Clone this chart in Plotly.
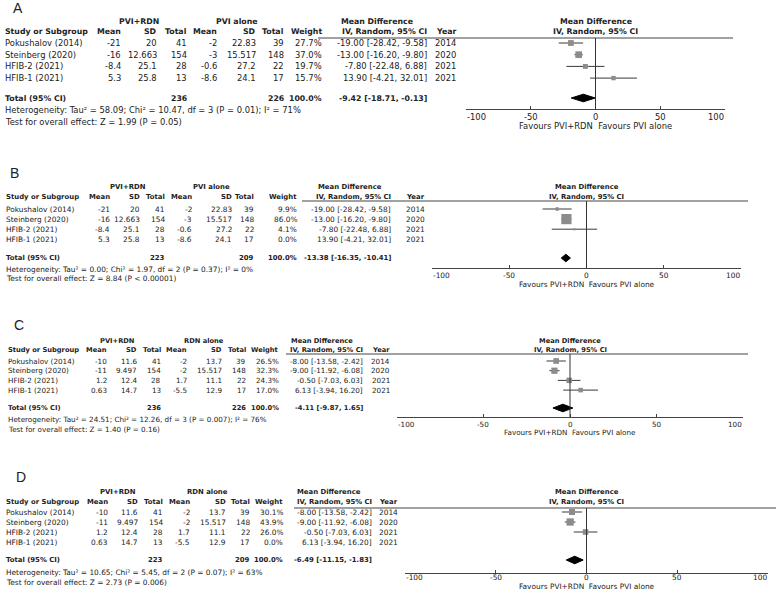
import plotly.graph_objects as go

W, H = 776, 589
FONT = "DejaVu Sans"
TXT = "#222222"

# ---------------- data ----------------
studies = ["Pokushalov (2014)", "Steinberg (2020)", "HFIB-2 (2021)", "HFIB-1 (2021)"]
years = ["2014", "2020", "2021", "2021"]

# A: PVI+RDN vs PVI alone (all studies)
a_exp_mean = [-21, -16, -8.4, 5.3]
a_exp_sd = [20, 12.663, 25.1, 25.8]
a_exp_n = [41, 154, 28, 13]
a_ctl_mean = [-2, -3, -0.6, -8.6]
a_ctl_sd = [22.83, 15.517, 27.2, 24.1]
a_ctl_n = [39, 148, 22, 17]
a_weight = [27.7, 37.0, 19.7, 15.7]
a_md = [-19.00, -13.00, -7.80, 13.90]
a_lo = [-28.42, -16.20, -22.48, -4.21]
a_hi = [-9.58, -9.80, 6.88, 32.01]
a_total_n = [236, 226]
a_total = [-9.42, -18.71, -0.13]
a_het = "Heterogeneity: Tau² = 58.09; Chi² = 10.47, df = 3 (P = 0.01); I² = 71%"
a_test = "Test for overall effect: Z = 1.99 (P = 0.05)"

# B: PVI+RDN vs PVI alone (HFIB-1 excluded)
b_weight = [9.9, 86.0, 4.1, 0.0]
b_total_n = [223, 209]
b_total = [-13.38, -16.35, -10.41]
b_het = "Heterogeneity: Tau² = 0.00; Chi² = 1.97, df = 2 (P = 0.37); I² = 0%"
b_test = "Test for overall effect: Z = 8.84 (P < 0.00001)"

# C: PVI+RDN vs RDN alone (all studies)
c_exp_mean = [-10, -11, 1.2, 0.63]
c_exp_sd = [11.6, 9.497, 12.4, 14.7]
c_exp_n = [41, 154, 28, 13]
c_ctl_mean = [-2, -2, 1.7, -5.5]
c_ctl_sd = [13.7, 15.517, 11.1, 12.9]
c_ctl_n = [39, 148, 22, 17]
c_weight = [26.5, 32.3, 24.3, 17.0]
c_md = [-8.00, -9.00, -0.50, 6.13]
c_lo = [-13.58, -11.92, -7.03, -3.94]
c_hi = [-2.42, -6.08, 6.03, 16.20]
c_total_n = [236, 226]
c_total = [-4.11, -9.87, 1.65]
c_het = "Heterogeneity: Tau² = 24.51; Chi² = 12.26, df = 3 (P = 0.007); I² = 76%"
c_test = "Test for overall effect: Z = 1.40 (P = 0.16)"

# D: PVI+RDN vs RDN alone (HFIB-1 excluded)
d_weight = [30.1, 43.9, 26.0, 0.0]
d_total_n = [223, 209]
d_total = [-6.49, -11.15, -1.83]
d_het = "Heterogeneity: Tau² = 10.65; Chi² = 5.45, df = 2 (P = 0.07); I² = 63%"
d_test = "Test for overall effect: Z = 2.73 (P = 0.006)"

tick_vals = [-100, -50, 0, 50, 100]
tick_text = ["-100", "-50", "0", "50", "100"]
favours_text = "Favours PVI+RDN  Favours PVI alone"

panels = [
    dict(label="A", grp1="PVI+RDN", grp2="PVI alone",
         em=a_exp_mean, es=a_exp_sd, en=a_exp_n, cm=a_ctl_mean, cs=a_ctl_sd, cn=a_ctl_n,
         w=a_weight, md=a_md, lo=a_lo, hi=a_hi, tn=a_total_n, tot=a_total, het=a_het, test=a_test),
    dict(label="B", grp1="PVI+RDN", grp2="PVI alone",
         em=a_exp_mean, es=a_exp_sd, en=a_exp_n, cm=a_ctl_mean, cs=a_ctl_sd, cn=a_ctl_n,
         w=b_weight, md=a_md, lo=a_lo, hi=a_hi, tn=b_total_n, tot=b_total, het=b_het, test=b_test),
    dict(label="C", grp1="PVI+RDN", grp2="RDN alone",
         em=c_exp_mean, es=c_exp_sd, en=c_exp_n, cm=c_ctl_mean, cs=c_ctl_sd, cn=c_ctl_n,
         w=c_weight, md=c_md, lo=c_lo, hi=c_hi, tn=c_total_n, tot=c_total, het=c_het, test=c_test),
    dict(label="D", grp1="PVI+RDN", grp2="RDN alone",
         em=c_exp_mean, es=c_exp_sd, en=c_exp_n, cm=c_ctl_mean, cs=c_ctl_sd, cn=c_ctl_n,
         w=d_weight, md=c_md, lo=c_lo, hi=c_hi, tn=d_total_n, tot=d_total, het=d_het, test=d_test),
]

# ---------------- layout geometry (pixels) ----------------
geoms = [
    dict(fs=8.4, lab=(12, 8), hdr1=21, hdr2=32, r0=43, dr=11.7, total=98, het=110, test=122,
         top=38, line_x0=318, line_x1=733, axis=109, tl=117, fav=126, xa=466, xb=725,
         study=4, cols=[122, 158, 188, 218, 257, 285, 323, 428, 457], g1=139, g2=237, gmd=377, k=1.1),
    dict(fs=7.4, lab=(9, 173), hdr1=187, hdr2=197, r0=209, dr=10.1, total=258, het=269, test=279,
         top=201, line_x0=302, line_x1=748, axis=268, tl=275, fav=284, xa=432, xb=741,
         study=5, cols=[111, 141, 166, 193, 233, 255, 298, 392, 426], g1=128, g2=212, gmd=350, k=1.1),
    dict(fs=7.2, lab=(13, 325), hdr1=341, hdr2=350, r0=361, dr=9.7, total=408, het=419, test=429,
         top=354, line_x0=286, line_x1=748, axis=417, tl=424, fav=432, xa=397, xb=743,
         study=7, cols=[108, 138, 162, 188, 223, 247, 280, 364, 391], g1=117, g2=204, gmd=322, k=1.1),
    dict(fs=7.4, lab=(15, 477), hdr1=492, hdr2=502, r0=512, dr=10.0, total=560, het=572, test=582,
         top=508, line_x0=294, line_x1=776, axis=573, tl=577.5, fav=586.5, xa=405, xb=768,
         study=5, cols=[109, 139, 164, 191, 227, 251, 284, 373, 399], g1=118, g2=207, gmd=329, k=1.1),
]
BOLD_SCALE = 0.93


def px(x):
    return x / W


def py(y):
    return 1 - y / H


fig = go.Figure()
annotations = []
shapes = []


def txt(x, y, s, size, anchor="right", bold=False, family=FONT, xref="paper"):
    annotations.append(dict(
        x=x if xref != "paper" else px(x), y=py(y), xref=xref, yref="paper",
        text=f"<b>{s}</b>" if bold else s, showarrow=False,
        xanchor=anchor, yanchor="middle", borderpad=0,
        font=dict(size=size * (BOLD_SCALE if bold else 1), family=family, color=TXT)))


def fmt(v):
    return f"{v:g}"


for idx, (p, g) in enumerate(zip(panels, geoms)):
    n = idx + 1
    xa = "x" if n == 1 else f"x{n}"
    ya = "y" if n == 1 else f"y{n}"
    fs = g["fs"]
    cols = g["cols"]

    # panel label
    txt(g["lab"][0], g["lab"][1], p["label"], 14, anchor="left", family="Liberation Sans")

    # group headers
    txt(g["g1"], g["hdr1"], p["grp1"], fs, anchor="center", bold=True)
    txt(g["g2"], g["hdr1"], p["grp2"], fs, anchor="center", bold=True)
    txt(g["gmd"], g["hdr1"], "Mean Difference", fs, anchor="center", bold=True)

    # column headers
    txt(g["study"], g["hdr2"], "Study or Subgroup", fs, anchor="left", bold=True)
    for c, s in zip(cols, ["Mean", "SD", "Total", "Mean", "SD", "Total", "Weight",
                           "IV, Random, 95% CI", "Year"]):
        txt(c, g["hdr2"], s, fs, bold=True)

    # study rows
    for i in range(len(studies)):
        yy = g["r0"] + i * g["dr"]
        txt(g["study"], yy, studies[i], fs, anchor="left")
        vals = [fmt(p["em"][i]), fmt(p["es"][i]), str(p["en"][i]),
                fmt(p["cm"][i]), fmt(p["cs"][i]), str(p["cn"][i]),
                f"{p['w'][i]:.1f}%",
                f"{p['md'][i]:.2f} [{p['lo'][i]:.2f}, {p['hi'][i]:.2f}]",
                years[i]]
        for c, s in zip(cols, vals):
            txt(c, yy, s, fs)

    # total row
    tt = p["tot"]
    txt(g["study"], g["total"], "Total (95% CI)", fs, anchor="left", bold=True)
    txt(cols[2], g["total"], str(p["tn"][0]), fs, bold=True)
    txt(cols[5], g["total"], str(p["tn"][1]), fs, bold=True)
    txt(cols[6], g["total"], "100.0%", fs, bold=True)
    txt(cols[7], g["total"], f"{tt[0]:.2f} [{tt[1]:.2f}, {tt[2]:.2f}]", fs, bold=True)
    txt(g["study"], g["het"], p["het"], fs, anchor="left")
    txt(g["study"], g["test"], p["test"], fs, anchor="left")

    # ---------- forest ----------
    r0, dr = g["r0"], g["dr"]
    row_bottom = (g["axis"] - r0) / dr
    row_top = (g["top"] - r0) / dr
    row_total = (g["total"] - r0) / dr

    for i in range(len(studies)):
        if p["w"][i] <= 0:
            continue
        fig.add_trace(go.Scatter(x=[p["lo"][i], p["hi"][i]], y=[i, i], mode="lines",
                                 line=dict(color="#3a3a3a", width=1), xaxis=xa, yaxis=ya,
                                 hoverinfo="skip", showlegend=False))
        fig.add_trace(go.Scatter(x=[p["md"][i]], y=[i], mode="markers",
                                 marker=dict(symbol="square", size=g["k"] * p["w"][i] ** 0.5,
                                             color="#8c8c8c", line=dict(width=0)),
                                 xaxis=xa, yaxis=ya, showlegend=False,
                                 hovertext=studies[i]))

    hh = 3.8 / dr
    fig.add_trace(go.Scatter(x=[tt[1], tt[0], tt[2], tt[0], tt[1]],
                             y=[row_total, row_total - hh, row_total, row_total + hh, row_total],
                             mode="lines", fill="toself", fillcolor="black",
                             line=dict(color="black", width=1), xaxis=xa, yaxis=ya,
                             showlegend=False, hoverinfo="skip"))

    # zero line
    shapes.append(dict(type="line", xref=xa, yref=f"{ya} domain", x0=0, x1=0, y0=0, y1=1,
                       line=dict(color="#333333", width=1)))
    # header rule
    shapes.append(dict(type="line", xref="paper", yref="paper", x0=px(g["line_x0"]),
                       x1=px(g["line_x1"]), y0=py(g["top"]), y1=py(g["top"]),
                       line=dict(color="#444444", width=1)))

    # forest headers
    txt(0, g["hdr1"], "Mean Difference", fs, anchor="center", bold=True, xref=xa)
    txt(0, g["hdr2"], "IV, Random, 95% CI", fs, anchor="center", bold=True, xref=xa)

    # tick labels
    for v, s in zip(tick_vals, tick_text):
        anc = "left" if v == tick_vals[0] else ("right" if v == tick_vals[-1] else "center")
        txt(v, g["tl"], s, fs, anchor=anc, xref=xa)
    txt(0, g["fav"], favours_text, fs, anchor="center", xref=xa)

    fig.update_layout(**{
        ("xaxis" if n == 1 else f"xaxis{n}"): dict(
            domain=[px(g["xa"]), px(g["xb"])], range=[-100, 100], anchor=ya,
            showline=True, linecolor="#444444", linewidth=1, ticks="inside", ticklen=3,
            tickcolor="#444444", tickvals=tick_vals, showticklabels=False,
            showgrid=False, zeroline=False, fixedrange=True),
        ("yaxis" if n == 1 else f"yaxis{n}"): dict(
            domain=[py(g["axis"]), py(g["top"])], range=[row_bottom, row_top], anchor=xa,
            visible=False, showgrid=False, zeroline=False, fixedrange=True),
    })

fig.update_layout(width=W, height=H, margin=dict(l=0, r=0, t=0, b=0),
                  paper_bgcolor="white", plot_bgcolor="rgba(0,0,0,0)",
                  annotations=annotations, shapes=shapes, showlegend=False)

fig.write_html("out.html", config={"displayModeBar": False, "staticPlot": True},
               post_script="document.body.style.margin='0';document.body.style.overflow='hidden';")
